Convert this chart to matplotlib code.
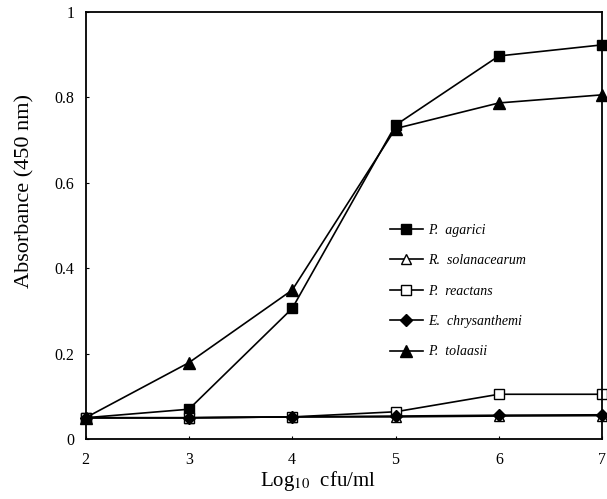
import matplotlib
matplotlib.use('Agg')
import matplotlib.pyplot as plt

plt.rcParams['font.family'] = ['Liberation Serif', 'DejaVu Serif']
plt.rcParams['mathtext.fontset'] = 'stix'

# data
log_cfu = [2, 3, 4, 5, 6, 7]
p_agarici = [0.05, 0.07, 0.306, 0.735, 0.897, 0.923]
r_solanacearum = [0.05, 0.05, 0.052, 0.052, 0.054, 0.055]
p_reactans = [0.05, 0.05, 0.052, 0.064, 0.105, 0.105]
e_chrysanthemi = [0.05, 0.05, 0.052, 0.054, 0.056, 0.057]
p_tolaasii = [0.05, 0.179, 0.349, 0.727, 0.787, 0.806]

y_ticks = [0, 0.2, 0.4, 0.6, 0.8, 1]
y_tick_labels = ['0', '0.2', '0.4', '0.6', '0.8', '1']

fig = plt.figure(figsize=(6.07, 4.99), dpi=100)
ax = fig.add_axes([0.141, 0.120, 0.851, 0.856])

kw = dict(color='black', linewidth=1.2, clip_on=False)
ax.plot(log_cfu, p_agarici, marker='s', markersize=7.5, markerfacecolor='black',
        label='P.  agarici', **kw)
ax.plot(log_cfu, r_solanacearum, marker='^', markersize=7, markerfacecolor='white',
        label='R.  solanacearum', **kw)
ax.plot(log_cfu, p_reactans, marker='s', markersize=7.5, markerfacecolor='white',
        label='P.  reactans', **kw)
ax.plot(log_cfu, e_chrysanthemi, marker='D', markersize=6, markerfacecolor='black',
        label='E.  chrysanthemi', **kw)
ax.plot(log_cfu, p_tolaasii, marker='^', markersize=8, markerfacecolor='black',
        label='P.  tolaasii', **kw)

ax.set_xlim(2, 7)
ax.set_ylim(0, 1)
ax.set_xticks(log_cfu)
ax.set_yticks(y_ticks)
ax.set_yticklabels(y_tick_labels)
ax.tick_params(direction='in', length=2, labelsize=11.5)
ax.tick_params(axis='x', pad=9)
ax.tick_params(axis='y', pad=8)
for s in ax.spines.values():
    s.set_linewidth(1.3)

ax.set_xlabel('Log$_{10}$  cfu/ml', fontsize=15)
ax.xaxis.set_label_coords(0.45, -0.07)
ax.set_ylabel('Absorbance (450 nm)', fontsize=16)
ax.yaxis.set_label_coords(-0.098, 0.58)

leg = ax.legend(loc='upper left', bbox_to_anchor=(0.575, 0.52), frameon=False,
                prop={'style': 'italic', 'size': 10}, handlelength=2.4,
                handletextpad=0.4, labelspacing=1.25, borderpad=0)

fig.savefig('out.png', dpi=100)
